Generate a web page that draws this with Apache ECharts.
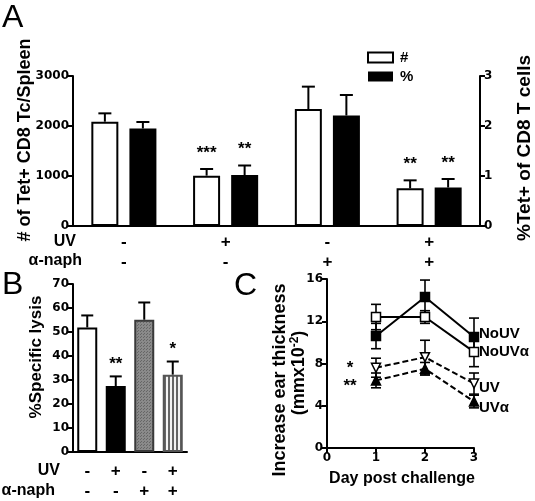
<!DOCTYPE html>
<html><head><meta charset="utf-8">
<script src="https://cdn.jsdelivr.net/npm/echarts@6/dist/echarts.min.js"></script>
<style>html,body{margin:0;padding:0;background:#fff}#c{width:535px;height:501px}</style>
</head><body><div id="c"></div>
<script>
// ---- data ----
const uvSigns = ['-', '+', '-', '+'];
const naphSigns = ['-', '-', '+', '+'];
const aTetNumber = [2086, 1007, 2340, 753];
const aTetNumberErr = [167, 133, 447, 160];
const aTetPercent = [1.95, 1.02, 2.21, 0.77];
const aTetPercentErr = [0.13, 0.19, 0.41, 0.17];
const aNumberStars = ['', '***', '', '**'];
const aPercentStars = ['', '**', '', '**'];
const bLysis = [51.9, 27.5, 55.1, 32.2];
const bLysisErr = [5.0, 4.0, 7.2, 5.5];
const bStars = ['', '**', '', '*'];
const cDays = [1, 2, 3];
const cNoUV = [10.6, 14.3, 10.5];
const cNoUVErr = [1.2, 1.6, 1.8];
const cNoUVa = [12.4, 12.4, 9.1];
const cNoUVaErr = [1.2, 0.6, 1.4];
const cUV = [7.6, 8.6, 6.1];
const cUVErr = [0.9, 1.6, 1.0];
const cUVa = [6.4, 7.5, 4.4];
const cUVaErr = [0.7, 0.6, 0.6];

const categories = uvSigns.map((u, i) => u + '\n' + naphSigns[i]);
const TXT = 'Liberation Sans, Arial, sans-serif';
const NUM = 'DejaVu Sans, sans-serif';

function stripes() {
  const c = document.createElement('canvas'); c.width = 4; c.height = 4;
  const g = c.getContext('2d'); g.fillStyle = '#f4f4f4'; g.fillRect(0, 0, 4, 4);
  g.fillStyle = '#666'; g.fillRect(0, 0, 2, 4); return c;
}
function dots() {
  const c = document.createElement('canvas'); c.width = 3; c.height = 3;
  const g = c.getContext('2d'); g.fillStyle = '#8a8a8a'; g.fillRect(0, 0, 3, 3);
  g.fillStyle = '#666'; g.fillRect(0, 0, 1, 1); g.fillRect(2, 1, 1, 1); return c;
}

function barErr(offset, half, stars, starGap, starSize) {
  return function (params, api) {
    const i = api.value(0), v = api.value(1), e = api.value(2);
    const top = api.coord([i, v]);
    const cap = api.coord([i, v + e]);
    const x = top[0] + offset;
    const ls = { stroke: '#000', lineWidth: 2 };
    const children = [
      { type: 'line', shape: { x1: x, y1: top[1], x2: x, y2: cap[1] }, style: ls },
      { type: 'line', shape: { x1: x - half, y1: cap[1], x2: x + half, y2: cap[1] }, style: ls }
    ];
    const s = stars[params.dataIndex];
    if (s) children.push({ type: 'text', x: x, y: cap[1] - starGap,
      style: { text: s, fill: '#000', fontSize: starSize, fontWeight: 'bold', fontFamily: TXT,
               textAlign: 'center', textVerticalAlign: 'middle' } });
    return { type: 'group', children: children };
  };
}
function lineErr(params, api) {
  const d = api.value(0), v = api.value(1), e = api.value(2);
  const lo = api.coord([d, v - e]), hi = api.coord([d, v + e]);
  const ls = { stroke: '#000', lineWidth: 1.6 };
  return { type: 'group', children: [
    { type: 'line', shape: { x1: lo[0], y1: lo[1], x2: hi[0], y2: hi[1] }, style: ls },
    { type: 'line', shape: { x1: lo[0] - 5, y1: lo[1], x2: lo[0] + 5, y2: lo[1] }, style: ls },
    { type: 'line', shape: { x1: hi[0] - 5, y1: hi[1], x2: hi[0] + 5, y2: hi[1] }, style: ls }
  ] };
}
function errData(vals, errs, xs) { return vals.map((v, i) => [xs ? xs[i] : i, v, errs[i]]); }

const axisLineStyle = { show: true, lineStyle: { color: '#000', width: 2 } };
const tickStyle = { show: true, length: 5, lineStyle: { color: '#000', width: 2 } };
const numLabel = { color: '#000', fontFamily: NUM, fontWeight: 'bold', fontSize: 12, margin: 4,
  formatter: (v) => String(v) };
const signLabel = (margin) => ({ color: '#000', fontFamily: TXT, fontWeight: 'bold', fontSize: 17,
  lineHeight: 20, margin: margin, interval: 0 });

function cLine(name, vals, symbol, fill, dashed, off) {
  return {
    type: 'line', name: name, xAxisIndex: 2, yAxisIndex: 3,
    data: vals.map((v, i) => [cDays[i], v]),
    symbol: symbol, symbolSize: 9,
    itemStyle: { color: fill, borderColor: '#000', borderWidth: 1.5 },
    lineStyle: { color: '#000', width: 2, type: dashed ? [6, 3] : 'solid' },
    endLabel: { show: true, formatter: name, color: '#000', fontFamily: TXT, fontWeight: 'bold',
      fontSize: 15, distance: 5, offset: off },
    animation: false, z: 3
  };
}

const chart = echarts.init(document.getElementById('c'), null, { renderer: 'canvas' });
chart.setOption({
  animation: false,
  backgroundColor: '#fff',
  grid: [
    { left: 73, top: 76, width: 407, height: 150 },
    { left: 73, top: 284, width: 114, height: 168 },
    { left: 327, top: 279, width: 147, height: 169 }
  ],
  legend: {
    left: 362, top: 45, orient: 'vertical', itemWidth: 25, itemHeight: 10, itemGap: 4,
    textStyle: { color: '#000', fontFamily: TXT, fontWeight: 'bold', fontSize: 15, padding: [0, 0, 0, 2] },
    data: [
      { name: '#', icon: 'rect', itemStyle: { color: '#fff', borderColor: '#000', borderWidth: 2 } },
      { name: '%', icon: 'rect', itemStyle: { color: '#000', borderColor: '#000', borderWidth: 0 } }
    ]
  },
  xAxis: [
    { type: 'category', gridIndex: 0, data: categories, axisLine: axisLineStyle,
      axisTick: { show: false }, axisLabel: signLabel(6) },
    { type: 'category', gridIndex: 1, data: categories, axisLine: axisLineStyle,
      axisTick: { show: false }, axisLabel: signLabel(9) },
    { type: 'value', gridIndex: 2, min: 0, max: 3, interval: 1, axisLine: axisLineStyle,
      axisTick: tickStyle, axisLabel: numLabel, splitLine: { show: false } }
  ],
  yAxis: [
    { type: 'value', gridIndex: 0, min: 0, max: 3000, interval: 1000, axisLine: axisLineStyle,
      axisTick: tickStyle, axisLabel: numLabel, splitLine: { show: false } },
    { type: 'value', gridIndex: 0, position: 'right', min: 0, max: 3, interval: 1, axisLine: axisLineStyle,
      axisTick: tickStyle, axisLabel: numLabel, splitLine: { show: false } },
    { type: 'value', gridIndex: 1, min: 0, max: 70, interval: 10, axisLine: axisLineStyle,
      axisTick: tickStyle, axisLabel: numLabel, splitLine: { show: false } },
    { type: 'value', gridIndex: 2, min: 0, max: 16, interval: 4, axisLine: axisLineStyle,
      axisTick: tickStyle, axisLabel: numLabel, splitLine: { show: false } }
  ],
  series: [
    { type: 'bar', name: '#', xAxisIndex: 0, yAxisIndex: 0, data: aTetNumber, barWidth: 27, barGap: '41%',
      itemStyle: { color: '#fff', borderColor: '#000', borderWidth: 2 } },
    { type: 'bar', name: '%', xAxisIndex: 0, yAxisIndex: 1, data: aTetPercent, barWidth: 27, barGap: '41%',
      itemStyle: { color: '#000' } },
    { type: 'custom', xAxisIndex: 0, yAxisIndex: 0, data: errData(aTetNumber, aTetNumberErr),
      renderItem: barErr(-19, 6.5, aNumberStars, 16, 17), z: 1 },
    { type: 'custom', xAxisIndex: 0, yAxisIndex: 1, data: errData(aTetPercent, aTetPercentErr),
      renderItem: barErr(19, 6.5, aPercentStars, 16, 17), z: 1 },
    { type: 'bar', xAxisIndex: 1, yAxisIndex: 2, barWidth: 20,
      data: bLysis.map((v, i) => ({ value: v, itemStyle: [
        { color: '#fff', borderColor: '#000', borderWidth: 2 },
        { color: '#000', borderColor: '#000', borderWidth: 2 },
        { color: { image: dots(), repeat: 'repeat' }, borderColor: '#3a3a3a', borderWidth: 2 },
        { color: { image: stripes(), repeat: 'repeat' }, borderColor: '#555', borderWidth: 2 }
      ][i] })) },
    { type: 'custom', xAxisIndex: 1, yAxisIndex: 2, data: errData(bLysis, bLysisErr),
      renderItem: barErr(0, 6, bStars, 12, 17), z: 1 },
    cLine('NoUV', cNoUV, 'rect', '#000', false, [0, -3]),
    cLine('NoUVα', cNoUVa, 'rect', '#fff', false, [0, 0]),
    cLine('UV', cUV, 'path://M0,0L10,0L5,9Z', '#fff', true, [0, 4]),
    cLine('UVα', cUVa, 'triangle', '#000', true, [0, 6]),
    { type: 'custom', xAxisIndex: 2, yAxisIndex: 3, data: errData(cNoUV, cNoUVErr, cDays), renderItem: lineErr, z: 2 },
    { type: 'custom', xAxisIndex: 2, yAxisIndex: 3, data: errData(cNoUVa, cNoUVaErr, cDays), renderItem: lineErr, z: 2 },
    { type: 'custom', xAxisIndex: 2, yAxisIndex: 3, data: errData(cUV, cUVErr, cDays), renderItem: lineErr, z: 2 },
    { type: 'custom', xAxisIndex: 2, yAxisIndex: 3, data: errData(cUVa, cUVaErr, cDays), renderItem: lineErr, z: 2 }
  ],
  graphic: [
    { type: 'text', left: 2, top: 2, style: { text: 'A', fontSize: 32, fontFamily: TXT, fill: '#000' } },
    { type: 'text', left: 2, top: 269, style: { text: 'B', fontSize: 32, fontFamily: TXT, fill: '#000' } },
    { type: 'text', left: 234, top: 270, style: { text: 'C', fontSize: 32, fontFamily: TXT, fill: '#000' } },
    { type: 'text', x: 25, y: 140, rotation: Math.PI / 2, style: { text: '# of Tet+ CD8 Tc/Spleen',
      fontSize: 18, fontWeight: 'bold', fontFamily: TXT, fill: '#000', textAlign: 'center', textVerticalAlign: 'middle' } },
    { type: 'text', x: 525, y: 148, rotation: Math.PI / 2, style: { text: '%Tet+ of CD8 T cells',
      fontSize: 19, fontWeight: 'bold', fontFamily: TXT, fill: '#000', textAlign: 'center', textVerticalAlign: 'middle' } },
    { type: 'text', x: 36, y: 357, rotation: Math.PI / 2, style: { text: '%Specific lysis',
      fontSize: 17, fontWeight: 'bold', fontFamily: TXT, fill: '#000', textAlign: 'center', textVerticalAlign: 'middle' } },
    { type: 'text', x: 280, y: 380, rotation: Math.PI / 2, style: { text: 'Increase ear thickness',
      fontSize: 18, fontWeight: 'bold', fontFamily: TXT, fill: '#000', textAlign: 'center', textVerticalAlign: 'middle' } },
    { type: 'text', x: 299, y: 373, rotation: Math.PI / 2, style: { text: '(mmx10{s|-2})',
      rich: { s: { fontSize: 12, fontWeight: 'bold', fontFamily: TXT, padding: [0, 0, 8, 0] } },
      fontSize: 18, fontWeight: 'bold', fontFamily: TXT, fill: '#000', textAlign: 'center', textVerticalAlign: 'middle' } },
    { type: 'text', x: 402, y: 479, style: { text: 'Day post challenge',
      fontSize: 16, fontWeight: 'bold', fontFamily: TXT, fill: '#000', textAlign: 'center', textVerticalAlign: 'middle' } },
    { type: 'text', x: 76, y: 242, style: { text: 'UV', fontSize: 16, fontWeight: 'bold', fontFamily: TXT,
      fill: '#000', textAlign: 'right', textVerticalAlign: 'middle' } },
    { type: 'text', x: 82, y: 261, style: { text: 'α-naph', fontSize: 16, fontWeight: 'bold', fontFamily: TXT,
      fill: '#000', textAlign: 'right', textVerticalAlign: 'middle' } },
    { type: 'text', x: 60, y: 471, style: { text: 'UV', fontSize: 16, fontWeight: 'bold', fontFamily: TXT,
      fill: '#000', textAlign: 'right', textVerticalAlign: 'middle' } },
    { type: 'text', x: 55, y: 491, style: { text: 'α-naph', fontSize: 16, fontWeight: 'bold', fontFamily: TXT,
      fill: '#000', textAlign: 'right', textVerticalAlign: 'middle' } },
    { type: 'text', x: 350, y: 368, style: { text: '*', fontSize: 17, fontWeight: 'bold', fontFamily: TXT,
      fill: '#000', textAlign: 'center', textVerticalAlign: 'middle' } },
    { type: 'text', x: 350, y: 386, style: { text: '**', fontSize: 17, fontWeight: 'bold', fontFamily: TXT,
      fill: '#000', textAlign: 'center', textVerticalAlign: 'middle' } }
  ]
});
</script></body></html>
